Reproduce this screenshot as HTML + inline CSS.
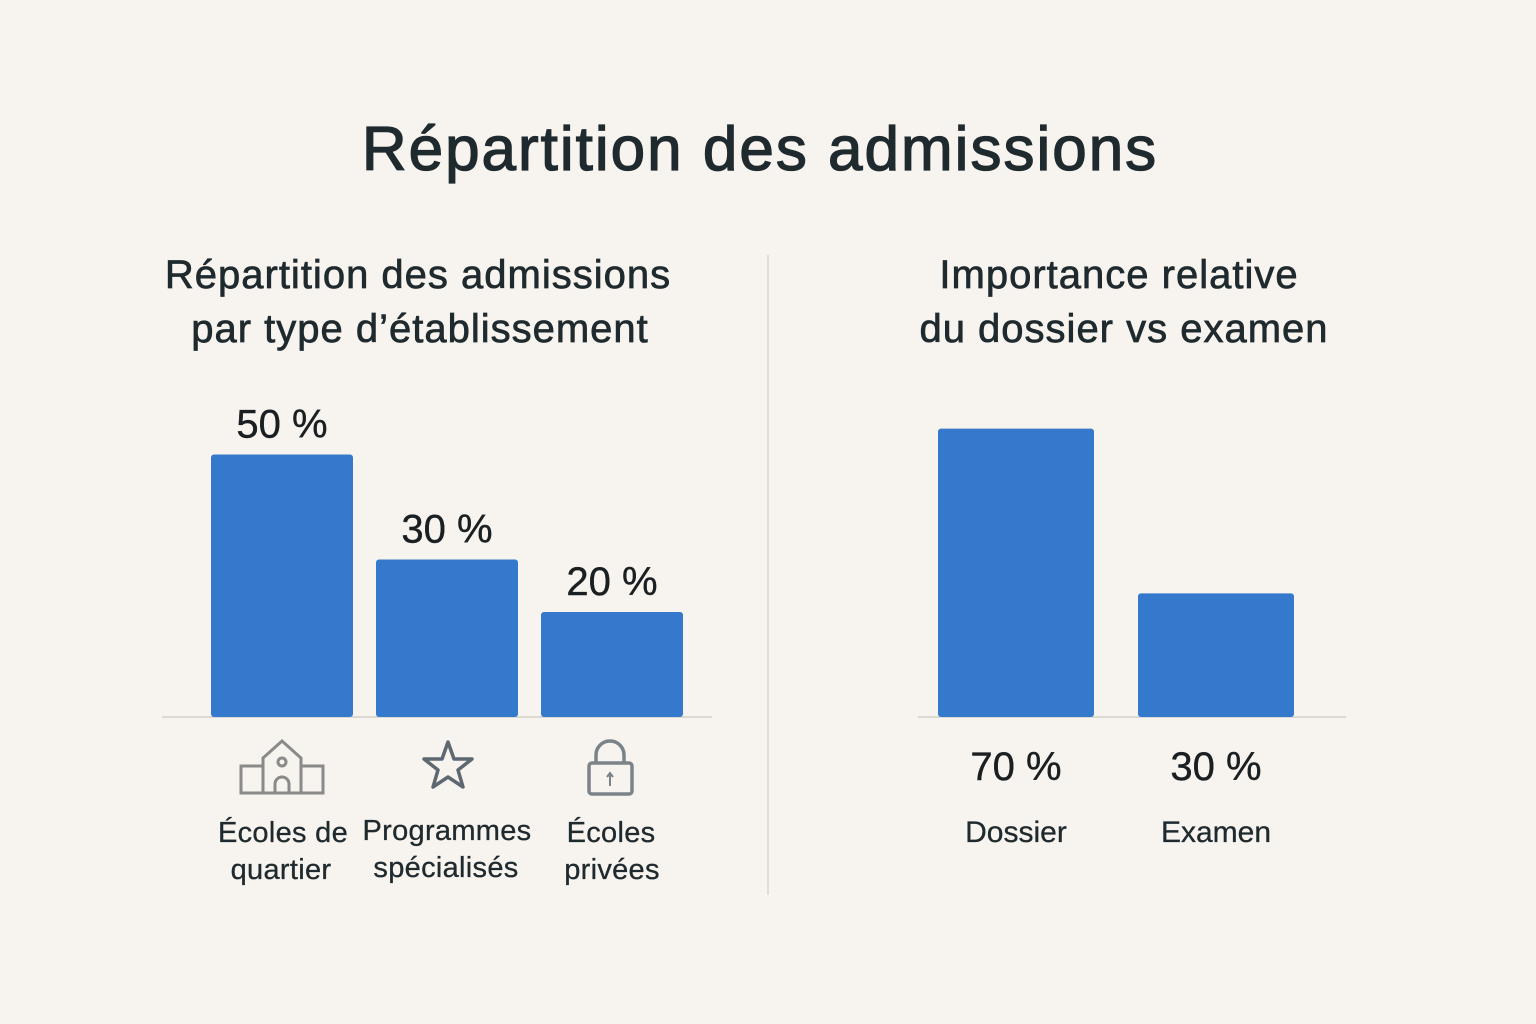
<!DOCTYPE html>
<html><head><meta charset="utf-8"><style>
html,body{margin:0;padding:0;background:#f7f3ee;}
svg{display:block;font-family:"Liberation Sans",sans-serif;}
</style></head><body>
<svg id="chart" width="1536" height="1024" viewBox="0 0 1536 1024">
<rect width="1536" height="1024" fill="#f7f3ee"/>
<text x="760" y="170" text-anchor="middle" font-size="62" letter-spacing="2" stroke="#1f2a2e" stroke-width="1.3" fill="#1f2a2e">Répartition des admissions</text>
<g font-size="40" letter-spacing="1" fill="#1f2a2e" stroke="#1f2a2e" stroke-width="0.7" text-anchor="middle">
<text x="418" y="288">Répartition des admissions</text>
<text x="420" y="342">par type d’établissement</text>
<text x="1119" y="288">Importance relative</text>
<text x="1124" y="342">du dossier vs examen</text>
</g>
<line x1="768" y1="255" x2="768" y2="895" stroke="#e2ddd6" stroke-width="2"/>
<line x1="162" y1="717" x2="712" y2="717" stroke="#dcd8d2" stroke-width="2"/>
<line x1="918" y1="717" x2="1346" y2="717" stroke="#dcd8d2" stroke-width="2"/>
<g id="left"></g>
<g id="right"></g>
<g fill="none" stroke="#8a8a8a" stroke-width="3">
<rect x="241" y="766" width="22" height="27"/><rect x="301" y="766" width="22" height="27"/>
<path d="M263 793 V758 L282 741 L301 758 V793 Z"/><circle cx="282" cy="762" r="4"/>
<path d="M275 793 V784 a7 7 0 0 1 14 0 V793"/>
</g>
<path d="M448 742 L454 759 L472 759 L458 770 L463 787 L448 777 L433 787 L438 770 L424 759 L442 759 Z" fill="none" stroke="#5d6870" stroke-width="3.5" stroke-linejoin="round"/>
<g fill="none" stroke="#7a8388" stroke-width="3.5">
<path d="M596 763 V755 a14 14 0 0 1 28 0 V763"/><rect x="589" y="763" width="43" height="31" rx="3"/>
<path d="M610 786 V774 M607 777 L610 773 L613 777" stroke-width="2"/>
</g>
<g font-size="29" letter-spacing="0.3" fill="#1f2a2e" stroke="#1f2a2e" stroke-width="0.3" text-anchor="middle">
<text x="283" y="842">Écoles de</text><text x="281" y="879">quartier</text>
<text x="447" y="840">Programmes</text><text x="446" y="877">spécialisés</text>
<text x="611" y="842">Écoles</text><text x="612" y="879">privées</text>
</g>
<script>
const leftCats=["Écoles de quartier","Programmes spécialisés","Écoles privées"];
const leftVals=[50,30,20];
const rightCats=["Dossier","Examen"];
const rightVals=[70,30];
const NS="http://www.w3.org/2000/svg";
const base=717;
function yL(v){return base-v*5.25;}
function yR(v){return base-v*4.12;}
const lx=[211,376,541],lw=142;
const rx=[938,1138],rw=156;
const L=document.getElementById('left'),R=document.getElementById('right');
function mk(t,a){const e=document.createElementNS(NS,t);for(const k in a)e.setAttribute(k,a[k]);return e;}
leftVals.forEach((v,i)=>{
 const r=mk('rect',{x:lx[i],y:yL(v),width:lw,height:base-yL(v),rx:3,fill:'#3479cc'});
 
 
 L.appendChild(r);
 const t=mk('text',{x:lx[i]+lw/2,y:yL(v)-17,'text-anchor':'middle','font-size':40,fill:'#1a1f22',stroke:'#1a1f22','stroke-width':0.4});
 t.textContent=v+' %';
 
 
 L.appendChild(t);
});
rightVals.forEach((v,i)=>{
 const r=mk('rect',{x:rx[i],y:yR(v),width:rw,height:base-yR(v),rx:3,fill:'#3479cc'});
 
 
 R.appendChild(r);
 const t=mk('text',{x:rx[i]+rw/2,y:780,'text-anchor':'middle','font-size':40,fill:'#1a1f22',stroke:'#1a1f22','stroke-width':0.4});
 t.textContent=v+' %';
 
 
 R.appendChild(t);
 const c=mk('text',{x:rx[i]+rw/2,y:842,'text-anchor':'middle','font-size':30,fill:'#1f2a2e',stroke:'#1f2a2e','stroke-width':0.3});
 c.textContent=rightCats[i];
 
 
 R.appendChild(c);
});
</script>
</svg>
</body></html>
